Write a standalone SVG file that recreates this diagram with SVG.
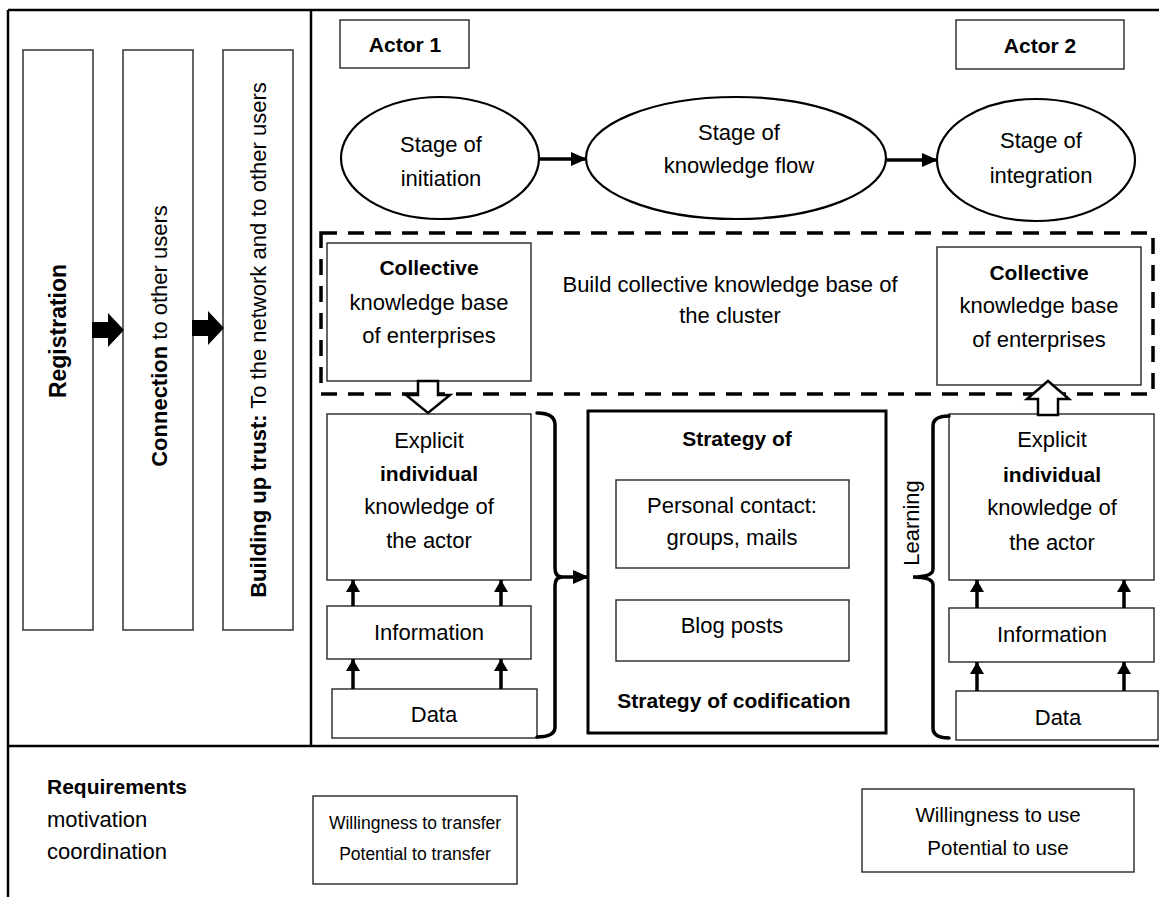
<svg xmlns="http://www.w3.org/2000/svg" width="1159" height="897" viewBox="0 0 1159 897">
  <style>
    text { font-family: "Liberation Sans", Arial, sans-serif; font-size: 22px; fill: #000; }
    .c { text-anchor: middle; }
    .b { font-weight: bold; font-size: 21px; }
    .v { font-size: 22px; }
    .sm { font-size: 17.5px; }
    .md { font-size: 20.5px; }
    .box { fill: #fff; stroke: #262626; stroke-width: 1.4; }
    .thick { fill: #fff; stroke: #000; stroke-width: 3; }
    .frame { fill: none; stroke: #000; stroke-width: 2.5; }
    .ell { fill: #fff; stroke: #000; stroke-width: 2.2; }
    .dash { fill: none; stroke: #000; stroke-width: 3.5; stroke-dasharray: 16 11; }
    .shaft { stroke: #000; stroke-width: 3.5; fill: none; }
    .brace { stroke: #000; stroke-width: 3.5; fill: none; stroke-linecap: round; }
    .hollow { fill: #fff; stroke: #000; stroke-width: 2.5; stroke-linejoin: miter; }
    .head { fill: #000; }
  </style>
  <defs>
    <marker id="tri" markerUnits="userSpaceOnUse" markerWidth="16" markerHeight="16" viewBox="0 0 16 16" refX="15" refY="8" orient="auto">
      <path d="M0,1 L16,8 L0,15 Z" fill="#000"/>
    </marker>
    <marker id="tri-small" markerUnits="userSpaceOnUse" markerWidth="14" markerHeight="14" viewBox="0 0 14 14" refX="12" refY="7" orient="auto">
      <path d="M0,0 L12,7 L0,14 Z" fill="#000"/>
    </marker>
  </defs>

  <!-- outer frame and panel dividers -->
  <g id="frame">
    <line class="frame" x1="8" y1="10" x2="8" y2="897"/>
    <line class="frame" x1="8" y1="10" x2="311" y2="10"/>
    <line class="frame" x1="311" y1="10" x2="1159" y2="10" stroke-width="3"/>
    <line class="frame" x1="311" y1="10" x2="311" y2="746" stroke-width="3"/>
    <line class="frame" x1="8" y1="746" x2="1159" y2="746" stroke-width="3"/>
  </g>

  <!-- left panel: onboarding steps -->
  <g id="registration">
    <rect class="box" x="23" y="50" width="70" height="580"/>
    <text class="c b" style="font-size:23px" transform="translate(66,331) rotate(-90)">Registration</text>
  </g>
  <g id="connection">
    <rect class="box" x="123" y="50" width="70" height="580"/>
    <text class="c" transform="translate(167,336) rotate(-90)"><tspan class="b v">Connection</tspan> to other users</text>
  </g>
  <g id="trust">
    <rect class="box" x="223" y="50" width="70" height="580"/>
    <text class="c" transform="translate(266,340) rotate(-90)"><tspan class="b v">Building up trust:</tspan> To the network and to other users</text>
  </g>

  <!-- actor headers -->
  <g id="actor1">
    <rect class="box" x="340" y="20" width="129" height="48"/>
    <text class="c b" x="405" y="52">Actor 1</text>
  </g>
  <g id="actor2">
    <rect class="box" x="956" y="20" width="168" height="49"/>
    <text class="c b" x="1040" y="53">Actor 2</text>
  </g>

  <!-- knowledge-transfer stages -->
  <g id="stage-initiation">
    <ellipse class="ell" cx="440" cy="158" rx="99" ry="61"/>
    <text class="c" x="441" y="152">Stage of</text>
    <text class="c" x="441" y="186">initiation</text>
  </g>
  <g id="stage-flow">
    <ellipse class="ell" cx="736" cy="158" rx="150" ry="61"/>
    <text class="c" x="739" y="140">Stage of</text>
    <text class="c" x="739" y="173">knowledge flow</text>
  </g>
  <g id="stage-integration">
    <ellipse class="ell" cx="1036" cy="160" rx="99" ry="61"/>
    <text class="c" x="1041" y="148">Stage of</text>
    <text class="c" x="1041" y="183">integration</text>
  </g>

  <!-- cluster knowledge base (dashed region) -->
  <g id="cluster">
    <rect class="dash" x="321" y="233" width="832" height="161"/>
    <text class="c" x="730" y="292">Build collective knowledge base of</text>
    <text class="c" x="730" y="323">the cluster</text>
  </g>
  <g id="collective1">
    <rect class="box" x="327" y="243" width="204" height="138"/>
    <text class="c b" x="429" y="275">Collective</text>
    <text class="c" x="429" y="310">knowledge base</text>
    <text class="c" x="429" y="343">of enterprises</text>
  </g>
  <g id="collective2">
    <rect class="box" x="937" y="247" width="204" height="138"/>
    <text class="c b" x="1039" y="280">Collective</text>
    <text class="c" x="1039" y="313">knowledge base</text>
    <text class="c" x="1039" y="347">of enterprises</text>
  </g>

  <!-- actor 1 knowledge stack -->
  <g id="explicit1">
    <rect class="box" x="327" y="414" width="204" height="166"/>
    <text class="c" x="429" y="448">Explicit</text>
    <text class="c b" x="429" y="481">individual</text>
    <text class="c" x="429" y="514">knowledge of</text>
    <text class="c" x="429" y="548">the actor</text>
  </g>
  <g id="information1">
    <rect class="box" x="327" y="606" width="204" height="53"/>
    <text class="c" x="429" y="640">Information</text>
  </g>
  <g id="data1">
    <rect class="box" x="332" y="689" width="205" height="49"/>
    <text class="c" x="434" y="722">Data</text>
  </g>

  <!-- strategies -->
  <g id="strategy">
    <rect class="thick" x="588" y="411" width="298" height="322"/>
    <text class="c b" x="737" y="446">Strategy of</text>
    <text class="c b" x="734" y="708">Strategy of codification</text>
  </g>
  <g id="personal-contact">
    <rect class="box" x="616" y="480" width="233" height="88"/>
    <text class="c" x="732" y="513">Personal contact:</text>
    <text class="c" x="732" y="545">groups, mails</text>
  </g>
  <g id="blog-posts">
    <rect class="box" x="616" y="600" width="233" height="61"/>
    <text class="c" x="732" y="633">Blog posts</text>
  </g>

  <!-- actor 2 knowledge stack -->
  <g id="explicit2">
    <rect class="box" x="949" y="414" width="205" height="166"/>
    <text class="c" x="1052" y="447">Explicit</text>
    <text class="c b" x="1052" y="482">individual</text>
    <text class="c" x="1052" y="515">knowledge of</text>
    <text class="c" x="1052" y="550">the actor</text>
  </g>
  <g id="information2">
    <rect class="box" x="949" y="608" width="205" height="54"/>
    <text class="c" x="1052" y="642">Information</text>
  </g>
  <g id="data2">
    <rect class="box" x="956" y="691" width="202" height="49"/>
    <text class="c" x="1058" y="725">Data</text>
  </g>
  <g id="learning">
    <text class="c" transform="translate(919,523) rotate(-90)">Learning</text>
  </g>

  <!-- requirements row -->
  <g id="requirements">
    <text class="b" x="47" y="794">Requirements</text>
    <text x="47" y="827">motivation</text>
    <text x="47" y="859">coordination</text>
  </g>
  <g id="transfer">
    <rect class="box" x="313" y="796" width="204" height="88"/>
    <text class="c sm" x="415" y="829">Willingness to transfer</text>
    <text class="c sm" x="415" y="860">Potential to transfer</text>
  </g>
  <g id="use">
    <rect class="box" x="862" y="789" width="272" height="83"/>
    <text class="c md" x="998" y="822">Willingness to use</text>
    <text class="c md" x="998" y="855">Potential to use</text>
  </g>

  <!-- connectors -->
  <g id="connectors">
    <!-- step arrows in left panel -->
    <path class="head" d="M92,322 L108,322 L108,313 L124,330 L108,347 L108,338 L92,338 Z"/>
    <path class="head" d="M192,320 L208,320 L208,311 L224,328 L208,345 L208,336 L192,336 Z"/>

    <!-- stage flow -->
    <line class="shaft" stroke-width="3" x1="539" y1="159" x2="586" y2="159" marker-end="url(#tri)"/>
    <line class="shaft" stroke-width="3" x1="886" y1="160" x2="937" y2="160" marker-end="url(#tri)"/>

    <!-- actor 1: data -> information -> explicit -->
    <line class="shaft" x1="353" y1="689" x2="353" y2="659" marker-end="url(#tri-small)"/>
    <line class="shaft" x1="501" y1="689" x2="501" y2="659" marker-end="url(#tri-small)"/>
    <line class="shaft" x1="353" y1="606" x2="353" y2="580" marker-end="url(#tri-small)"/>
    <line class="shaft" x1="501" y1="606" x2="501" y2="580" marker-end="url(#tri-small)"/>

    <!-- actor 2: data -> information -> explicit -->
    <line class="shaft" x1="977" y1="691" x2="977" y2="662" marker-end="url(#tri-small)"/>
    <line class="shaft" x1="1124" y1="691" x2="1124" y2="662" marker-end="url(#tri-small)"/>
    <line class="shaft" x1="977" y1="608" x2="977" y2="580" marker-end="url(#tri-small)"/>
    <line class="shaft" x1="1124" y1="608" x2="1124" y2="580" marker-end="url(#tri-small)"/>

    <!-- collective base -> actor 1, actor 2 -> collective base -->
    <path class="hollow" d="M418,381 L438,381 L438,395 L450,395 L428,413 L406,395 L418,395 Z"/>
    <path class="hollow" d="M1038,415 L1058,415 L1058,399 L1069,399 L1048,381 L1027,399 L1038,399 Z"/>

    <!-- brace grouping actor 1 stack, into strategies -->
    <path class="brace" d="M537,413 Q555,413 555,425 L555,568 Q555,577 562,577 Q555,577 555,586 L555,727 Q555,737 537,737"/>
    <line class="shaft" x1="560" y1="577" x2="588" y2="577" marker-end="url(#tri)"/>

    <!-- learning brace on actor 2 stack -->
    <path class="brace" d="M949,416 Q933,416 933,426 L933,569 Q933,577 913,577 Q933,577 933,585 L933,728 Q933,738 949,738"/>
  </g>
</svg>
